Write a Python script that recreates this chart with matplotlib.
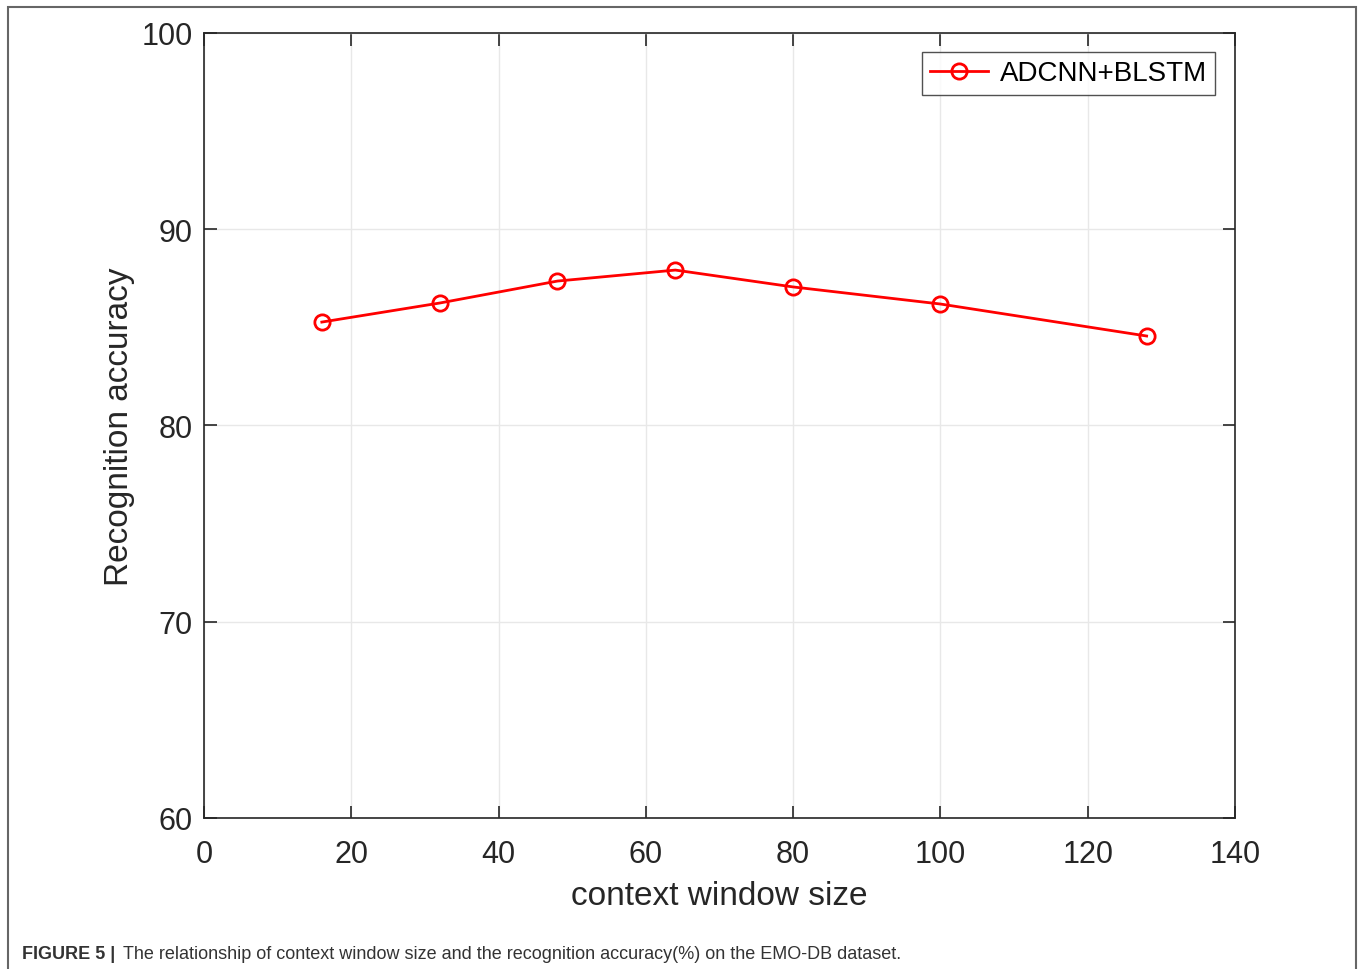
import matplotlib
matplotlib.use("Agg")
import matplotlib.pyplot as plt
from matplotlib.patches import Rectangle

plt.rcParams['font.family'] = ['Liberation Sans', 'DejaVu Sans']

window_size = [16, 32, 48, 64, 80, 100, 128]
accuracy = [85.27, 86.24, 87.36, 87.92, 87.06, 86.19, 84.56]
series_label = "ADCNN+BLSTM"
x_ticks = [0, 20, 40, 60, 80, 100, 120, 140]
y_ticks = [60, 70, 80, 90, 100]

fig = plt.figure(figsize=(13.58, 9.70), dpi=100)
ax = fig.add_axes([204/1358, 1-819/970, (1235-204)/1358, (819-34)/970])

ax.plot(window_size, accuracy, color='#ff0000', lw=2, marker='o', ms=11,
        mfc='none', mec='#ff0000', mew=2, label=series_label)

ax.set_xlim(0, 140)
ax.set_ylim(60, 100)
ax.set_xticks(x_ticks)
ax.set_yticks(y_ticks)
ax.grid(True, color='#e8e8e8', lw=1)
ax.set_axisbelow(True)
for s in ax.spines.values():
    s.set_color('#262626')
    s.set_linewidth(1.2)
ax.tick_params(direction='in', length=9, width=1.2, colors='#262626',
               labelsize=22, top=True, right=True)
ax.tick_params(axis='x', pad=15)
ax.tick_params(axis='y', pad=8)
for t in ax.get_xticklabels() + ax.get_yticklabels():
    t.set_color('#262626')
ax.set_xlabel("context window size", fontsize=24, color='#262626', labelpad=8)
ax.set_ylabel("Recognition accuracy", fontsize=24, color='#262626', labelpad=5)

leg = ax.legend(loc='upper right', fontsize=20, frameon=True, fancybox=False,
                handlelength=2.1, borderpad=0.3, handletextpad=0.4,
                borderaxespad=0, bbox_to_anchor=(0.9806, 0.9758))
leg.get_frame().set_edgecolor('#262626')
leg.get_frame().set_linewidth(1.0)

# outer frame
fig.patches.append(Rectangle((8/1358, -0.05), (1356-8)/1358, 1.05 - 8/970,
                             transform=fig.transFigure, fill=False,
                             edgecolor='#666666', lw=1.5))

fig.text(22/1358, 1-955/970, "FIGURE 5 |", fontsize=13, fontweight='bold',
         color='#333333', va='center', ha='left')
fig.text(123/1358, 1-955/970,
         "The relationship of context window size and the recognition accuracy(%) on the EMO-DB dataset.",
         fontsize=13, color='#333333', va='center', ha='left')

fig.savefig("out.png", dpi=100)
